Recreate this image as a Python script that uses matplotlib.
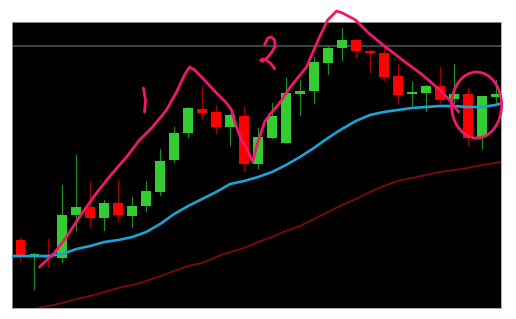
import matplotlib
matplotlib.use("Agg")
import matplotlib.pyplot as plt
from matplotlib.patches import Rectangle, Ellipse

# ______________________ Candles ______________________
opens  = [68, 52, 53, 50, 93, 101, 90, 105, 92, 102, 116, 148, 175, 199, 196, 181, 192, 144,
          170, 165, 214, 217, 245, 260, 268, 257, 255, 232, 214, 215, 222, 209, 214, 171, 211]
closes = [53, 54, 50, 93, 101, 90, 105, 93, 102, 117, 147, 175, 200, 195, 181, 193, 144, 171,
          192, 215, 217, 246, 260, 268, 257, 255, 231, 213, 216, 222, 208, 214, 170, 212, 214]
highs  = [70, 55, 69, 123, 153, 126, 108, 128, 111, 127, 159, 181, 201, 222, 203, 194, 201, 180,
          205, 230, 228, 251, 261, 280, 268, 258, 262, 244, 226, 223, 241, 244, 220, 212, 228]
lows   = [48, 19, 41, 46, 78, 81, 78, 88, 81, 97, 113, 146, 171, 189, 175, 163, 137, 140,
          170, 165, 193, 205, 234, 248, 251, 236, 228, 205, 203, 197, 206, 205, 163, 160, 203]

# moving averages, one value per bar from index -1 to 35
ma_x = list(range(-1, 36))
ma_fast = [256, 256, 256, 256, 254, 249, 246, 242, 240, 237, 232, 224, 214, 206, 199, 192, 184,
           181, 177, 172, 165, 157, 148, 138, 129, 121, 115, 112, 110, 108, 107, 106, 106, 107,
           107, 105, 101]
ma_fast = [308 - v for v in ma_fast]
ma_slow = [318, 313, 309, 306, 303, 299, 296, 292, 288, 285, 281, 276, 271, 266, 263, 257, 252,
           248, 242, 237, 231, 226, 219, 212, 205, 199, 192, 186, 181, 178, 175, 172, 170, 168,
           165, 163, 160]
ma_slow = [308 - v for v in ma_slow]

level = 262

# ______________________ Hand drawn marks (pink) ______________________
trend_x = [1.36, 2.43, 3.29, 4.22, 5.44, 6.59, 7.59, 8.52, 9.45, 10.45, 11.17, 11.74, 12.10,
           12.46, 13.03, 14.03, 14.75, 15.10, 15.46, 15.82, 16.25, 16.61, 16.97, 17.47, 17.82,
           18.54, 19.26, 19.83, 20.47, 20.90, 21.40, 21.98, 22.62, 23.05, 23.98, 24.91, 26.13,
           27.34, 28.78, 30.0, 30.71, 31.36]
trend_y = [41, 55, 71, 91, 115, 135, 151, 168, 181, 198, 216, 233, 241, 238, 230, 215, 205, 198,
           181, 168, 158, 146, 165, 186, 193, 205, 220, 230, 241, 255, 271, 288, 297, 295, 288,
           275, 261, 248, 233, 218, 208, 196]
one_x = [8.80, 8.95, 8.88]
one_y = [220, 208, 196]
two_x = [17.47, 17.70, 17.95, 18.18, 18.23, 17.95, 17.59, 17.30, 17.18, 17.30, 17.59, 17.95, 18.18]
two_y = [263.3, 270, 271, 268.3, 261.7, 255, 249.3, 246.7, 247.7, 249, 248.3, 244, 239.3]

GREEN = "#33cc33"
RED = "#ff0000"
PINK = "#f0186e"

fig = plt.figure(figsize=(5.16, 3.19), dpi=100)
ax = fig.add_axes([0.0242, 0.0345, 0.946, 0.8965])
ax.set_facecolor("black")

ax.axhline(level, color="#3d4650", lw=1.4, zorder=1)

w = 0.7
for i in range(len(opens)):
    o, c, h, l = opens[i], closes[i], highs[i], lows[i]
    up = c >= o
    body = GREEN if up else RED
    wick = "#1f8a1f" if up else "#a00000"
    ax.plot([i, i], [l, h], color=wick, lw=0.9, zorder=2)
    ax.add_patch(Rectangle((i - w / 2, min(o, c)), w, max(abs(c - o), 1.5),
                           facecolor=body, edgecolor="none", zorder=3))

ax.plot(ma_x, ma_fast, color="#1aa3d6", lw=1.9, zorder=4)
ax.plot(ma_x, ma_slow, color="#800808", lw=1.3, zorder=4)

kw = dict(color=PINK, lw=2.0, solid_capstyle="round", solid_joinstyle="round",
          clip_on=False, zorder=6)
ax.plot(trend_x, trend_y, **kw)
ax.plot(one_x, one_y, **kw)
ax.plot(two_x, two_y, **kw)
ax.add_patch(Ellipse((32.64, 203), 3.58, 66, fill=False, edgecolor=PINK, lw=2.0,
                     clip_on=False, zorder=6))

ax.set_xlim(-0.57, 34.36)
ax.set_ylim(0, 286)
ax.set_xticks([])
ax.set_yticks([])
for s in ax.spines.values():
    s.set_color("#a0a0a0")
    s.set_linewidth(0.6)

fig.savefig("out.png", dpi=100, facecolor="white")
